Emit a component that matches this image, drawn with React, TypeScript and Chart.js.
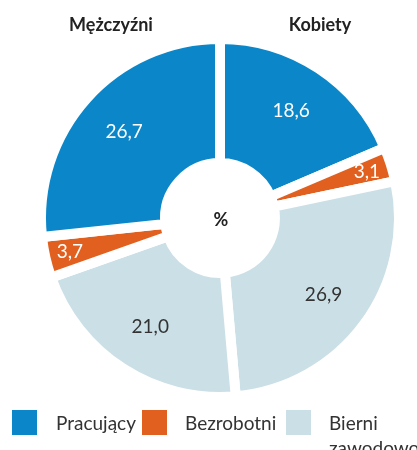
import React, { useEffect, useRef } from "react";
import { Chart, registerables } from "chart.js";

Chart.register(...registerables);

const categories = ["Pracujący", "Bezrobotni", "Bierni zawodowo"];
const legendLines = [["Pracujący"], ["Bezrobotni"], ["Bierni", "zawodowo"]];
const groups = ["Mężczyźni", "Kobiety"];
const kobiety = [18.6, 3.1, 26.9];
const mezczyzni = [26.7, 3.7, 21.0];
const centerText = "%";

const colors = ["#0b87c9", "#e1601f", "#cbdfe6"];
const labelColors = ["#ffffff", "#ffffff", "#333333"];

const values = [...kobiety, ...[...mezczyzni].reverse()];
const catIndex = [0, 1, 2, 2, 1, 0];
const segLabels = catIndex.map((c, i) => (i < 3 ? "Kobiety – " : "Mężczyźni – ") + categories[c]);

const FONT = "Lato, 'Open Sans', sans-serif";

const fmt = (v: number) => v.toFixed(1).replace(".", ",");

const overlay = {
  id: "overlay",
  afterDraw(chart: any) {
    const ctx = chart.ctx;
    const meta = chart.getDatasetMeta(0);
    ctx.save();
    ctx.textAlign = "center";
    ctx.textBaseline = "middle";
    meta.data.forEach((arc: any, i: number) => {
      const p = arc.getProps(["x", "y", "startAngle", "endAngle", "innerRadius", "outerRadius"], true);
      const mid = (p.startAngle + p.endAngle) / 2;
      const small = values[i] < 10;
      const r = small ? p.outerRadius * 0.86 : p.outerRadius * 0.72;
      ctx.fillStyle = labelColors[catIndex[i]];
      ctx.font = `19px ${FONT}`;
      ctx.fillText(fmt(values[i]), p.x + Math.cos(mid) * r, p.y + Math.sin(mid) * r);
    });
    const a0: any = meta.data[0];
    ctx.fillStyle = "#222";
    ctx.font = `bold 18px ${FONT}`;
    ctx.fillText(centerText, a0.x + 1, a0.y + 2);
    // group titles
    ctx.font = `bold 18px ${FONT}`;
    ctx.fillText(groups[0], 111, 25);
    ctx.fillText(groups[1], 320, 25);
    // legend
    const sq = [12, 142, 286];
    const tx = [56, 185, 329];
    ctx.textAlign = "left";
    ctx.font = `19px ${FONT}`;
    categories.forEach((c, i) => {
      ctx.fillStyle = colors[i];
      ctx.fillRect(sq[i], 410, 25, 25);
      ctx.fillStyle = "#333";
      legendLines[i].forEach((line, j) => {
        ctx.fillText(line, tx[i], 424 + j * 25);
      });
    });
    ctx.restore();
  },
};

export default function App() {
  const ref = useRef<HTMLCanvasElement>(null);
  useEffect(() => {
    document.body.style.margin = "0";
    const chart = new Chart(ref.current!, {
      type: "doughnut",
      data: {
        labels: segLabels,
        datasets: [
          {
            data: values,
            backgroundColor: catIndex.map((c) => colors[c]),
            borderColor: "#ffffff",
            borderWidth: 10,
            hoverOffset: 0,
          },
        ],
      },
      options: {
        responsive: false,
        animation: false,
        cutout: "30.7%",
        layout: { padding: { left: 36, right: 13, top: 34, bottom: 48 } },
        plugins: { legend: { display: false }, tooltip: { enabled: false } },
      },
      plugins: [overlay],
    });
    return () => chart.destroy();
  }, []);
  return (
    <div style={{ width: 417, height: 450, background: "#fff" }}>
      <canvas ref={ref} width={417} height={450} style={{ display: "block" }} />
    </div>
  );
}
